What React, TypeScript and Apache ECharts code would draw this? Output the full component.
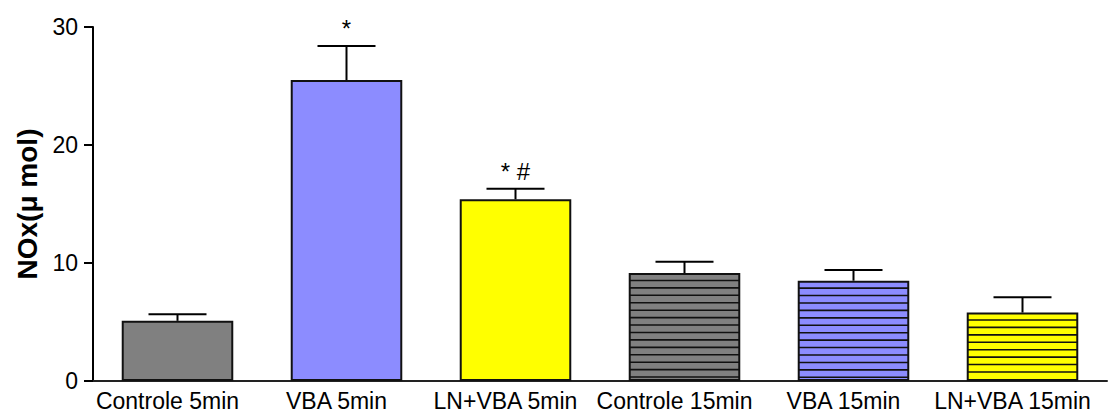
import React, { useEffect, useRef } from "react";
import * as echarts from "echarts";

const categories = ["Controle 5min", "VBA 5min", "LN+VBA 5min", "Controle 15min", "VBA 15min", "LN+VBA 15min"];
const means = [5.1, 25.5, 15.4, 9.15, 8.5, 5.8];
const errors = [0.55, 2.9, 0.9, 0.95, 0.9, 1.3];
const hatched = [false, false, false, true, true, true];
const fills = ["#808080", "#8C8CFF", "#FFFF00", "#808080", "#8C8CFF", "#FFFF00"];
const marks = ["", "*", "* #", "", "", ""];
const yTicks = [0, 10, 20, 30];

const FONT = "Liberation Sans";

export default function App() {
  const ref = useRef<HTMLDivElement>(null);
  useEffect(() => {
    if (!ref.current) return;
    const chart = echarts.init(ref.current, null, { renderer: "svg" });
    const option: any = {
      animation: false,
      textStyle: { fontFamily: FONT },
      grid: { left: 93, right: 2, top: 27, bottom: 33, containLabel: false },
      xAxis: {
        type: "category",
        data: categories,
        axisLine: { show: true, lineStyle: { color: "#222", width: 2 } },
        axisTick: { show: false },
        axisLabel: {
          color: "#000",
          fontSize: 23,
          fontFamily: FONT,
          margin: 8,
          interval: 0,
          padding: [0, 20, 0, 0],
        },
      },
      yAxis: {
        type: "value",
        min: yTicks[0],
        max: yTicks[yTicks.length - 1],
        interval: 10,
        name: "NOx(μ mol)",
        nameLocation: "middle",
        nameGap: 52,
        nameTextStyle: { color: "#000", fontSize: 28, fontWeight: "bold", fontFamily: FONT },
        axisLine: { show: true, lineStyle: { color: "#000", width: 2 } },
        axisTick: { show: true, length: 9, lineStyle: { color: "#000", width: 2 } },
        axisLabel: { color: "#000", fontSize: 23, fontFamily: FONT, margin: 15 },
        splitLine: { show: false },
      },
      series: [
        {
          type: "bar",
          barWidth: "66%",
          data: means.map((v, i) => ({
            value: v,
            itemStyle: { color: fills[i], borderColor: "#111", borderWidth: 2 },
          })),
          z: 2,
        },
        {
          type: "custom",
          z: 3,
          data: means.map((v, i) => [i, v]),
          renderItem: (params: any, api: any) => {
            const i = params.dataIndex;
            const top = api.coord([i, means[i]]);
            const base = api.coord([i, 0]);
            const errTop = api.coord([i, means[i] + errors[i]]);
            const bw = api.size([1, 0])[0] * 0.66;
            const x = top[0];
            const children: any[] = [];
            if (hatched[i]) {
              const step = 7.43;
              for (let y = top[1] + step; y < base[1] - 2; y += step) {
                children.push({
                  type: "line",
                  shape: { x1: x - bw / 2 + 1, y1: y, x2: x + bw / 2 - 1, y2: y },
                  style: { stroke: "#111", lineWidth: 1.6 },
                });
              }
            }
            children.push({
              type: "line",
              shape: { x1: x, y1: top[1], x2: x, y2: errTop[1] },
              style: { stroke: "#000", lineWidth: 2 },
            });
            const cap = bw * 0.26;
            children.push({
              type: "line",
              shape: { x1: x - cap, y1: errTop[1], x2: x + cap, y2: errTop[1] },
              style: { stroke: "#000", lineWidth: 2 },
            });
            if (marks[i]) {
              children.push({
                type: "text",
                style: {
                  text: marks[i],
                  x: x,
                  y: errTop[1] - 17,
                  align: "center",
                  verticalAlign: "middle",
                  fontSize: 24,
                  fontFamily: FONT,
                  fill: "#000",
                },
              });
            }
            return { type: "group", children };
          },
        },
      ],
    };
    chart.setOption(option);
    return () => chart.dispose();
  }, []);
  return (
    <div
      ref={ref}
      style={{ position: "fixed", left: 0, top: 0, width: 1109, height: 414, background: "#fff" }}
    />
  );
}
